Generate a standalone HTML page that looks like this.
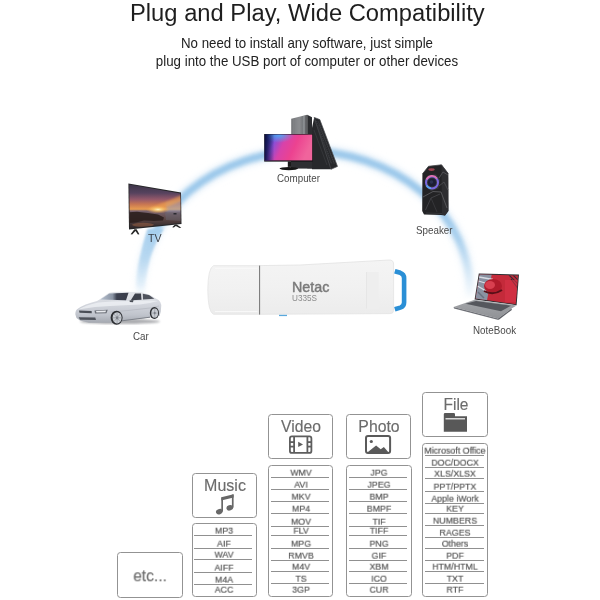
<!DOCTYPE html>
<html><head><meta charset="utf-8"><style>
html,body{margin:0;padding:0;}
body{-webkit-font-smoothing:antialiased;width:600px;height:600px;background:#fff;position:relative;overflow:hidden;font-family:"Liberation Sans",sans-serif;}
.t{will-change:transform;transform:scaleY(1.045);transform-origin:50% 84.65%;position:absolute;white-space:nowrap;line-height:1;}
.lbl{will-change:transform;transform:scaleY(1.07);transform-origin:50% 84.65%;position:absolute;white-space:nowrap;line-height:1;font-size:9.8px;color:#4a4a4a;}
.box{position:absolute;border:1.5px solid #939393;border-radius:3.5px;box-sizing:border-box;}
.hd{will-change:transform;transform:scaleY(1.05);transform-origin:50% 84.65%;position:absolute;white-space:nowrap;text-align:center;color:#6c6c6c;line-height:1;width:80px;-webkit-text-stroke:0.15px #6c6c6c;}
.ln{position:absolute;height:1px;background:#909090;}
.it{will-change:transform;transform:scale(0.93,1.04);transform-origin:50% 84.65%;position:absolute;width:80px;text-align:center;color:#555;line-height:1;white-space:nowrap;-webkit-text-stroke:0.2px #555;}
svg{position:absolute;left:0;top:0;}
</style></head><body>

<div class="t" style="left:130px;top:1.3px;font-size:23.75px;color:#1e1e1e;">Plug and Play, Wide Compatibility</div>
<div class="t" style="left:0;width:614px;text-align:center;top:36.5px;font-size:13.3px;color:#222;">No need to install any software, just simple</div>
<div class="t" style="left:0;width:614px;text-align:center;top:55px;font-size:13.3px;color:#222;">plug into the USB port of computer or other devices</div>

<svg width="600" height="380" viewBox="0 0 600 380">
  <defs>
    <filter id="blur" x="-20%" y="-20%" width="140%" height="140%"><feGaussianBlur stdDeviation="2.2"/></filter>
    <filter id="sb" x="-10%" y="-10%" width="120%" height="120%"><feGaussianBlur stdDeviation="0.6"/></filter>
    <filter id="sb2" x="-10%" y="-10%" width="120%" height="120%"><feGaussianBlur stdDeviation="1.2"/></filter>
    <linearGradient id="scr1" x1="0" y1="0" x2="1" y2="0.25">
      <stop offset="0" stop-color="#1e2060"/><stop offset="0.1" stop-color="#3040a8"/><stop offset="0.26" stop-color="#8a4ed6"/><stop offset="0.45" stop-color="#d842aa"/><stop offset="0.7" stop-color="#ec4290"/><stop offset="1" stop-color="#f0649c"/>
    </linearGradient>
    <radialGradient id="scr1b" cx="0.3" cy="0.0" r="0.32">
      <stop offset="0" stop-color="#48b4f8" stop-opacity="0.9"/><stop offset="1" stop-color="#48b4f8" stop-opacity="0"/>
    </radialGradient>
    <linearGradient id="scr1d" x1="0" y1="0" x2="1" y2="0">
      <stop offset="0" stop-color="#0e0e40" stop-opacity="0.95"/><stop offset="0.2" stop-color="#0e0e40" stop-opacity="0"/>
    </linearGradient>
    <linearGradient id="tvs" x1="0" y1="184" x2="0" y2="229" gradientUnits="userSpaceOnUse">
      <stop offset="0" stop-color="#3a3446"/><stop offset="0.2" stop-color="#56425e"/><stop offset="0.34" stop-color="#94586a"/><stop offset="0.45" stop-color="#c87652"/><stop offset="0.56" stop-color="#e89c50"/><stop offset="0.6" stop-color="#7a6470"/><stop offset="0.78" stop-color="#5a4442"/><stop offset="1" stop-color="#2a2428"/>
    </linearGradient>
    <radialGradient id="sun" cx="0.5" cy="0.5" r="0.5">
      <stop offset="0" stop-color="#fff4c0"/><stop offset="0.4" stop-color="#f8c870" stop-opacity="0.8"/><stop offset="1" stop-color="#f0a050" stop-opacity="0"/>
    </radialGradient>
    <linearGradient id="lap" x1="0" y1="0" x2="1" y2="0">
      <stop offset="0" stop-color="#8890a0"/><stop offset="0.25" stop-color="#a03040"/><stop offset="0.5" stop-color="#b82030"/><stop offset="0.8" stop-color="#d83448"/><stop offset="1" stop-color="#c83040"/>
    </linearGradient>
    <linearGradient id="carb" x1="0" y1="291" x2="0" y2="323" gradientUnits="userSpaceOnUse">
      <stop offset="0" stop-color="#e6e8ec"/><stop offset="0.4" stop-color="#d4d7de"/><stop offset="0.75" stop-color="#c0c4cc"/><stop offset="1" stop-color="#a4a8b0"/>
    </linearGradient>
    <linearGradient id="usbb" x1="0" y1="0" x2="0" y2="1">
      <stop offset="0" stop-color="#f4f4f4"/><stop offset="0.5" stop-color="#f1f1f1"/><stop offset="1" stop-color="#ececec"/>
    </linearGradient>
    <linearGradient id="tower" x1="0" y1="0" x2="1" y2="0">
      <stop offset="0" stop-color="#747679"/><stop offset="0.5" stop-color="#8c8e91"/><stop offset="0.7" stop-color="#77797c"/><stop offset="1" stop-color="#5a5b5e"/>
    </linearGradient>
    <linearGradient id="deck" x1="0" y1="0" x2="0" y2="1">
      <stop offset="0" stop-color="#a4a6aa"/><stop offset="1" stop-color="#909296"/>
    </linearGradient>
    <filter id="blur3" x="-20%" y="-20%" width="140%" height="140%"><feGaussianBlur stdDeviation="3.5"/></filter>
    <linearGradient id="arcfade" x1="0" y1="0" x2="0" y2="300" gradientUnits="userSpaceOnUse">
      <stop offset="0.7" stop-color="#fff"/><stop offset="0.8" stop-color="#fff" stop-opacity="0.85"/><stop offset="0.97" stop-color="#fff" stop-opacity="0.15"/><stop offset="1" stop-color="#fff" stop-opacity="0"/>
    </linearGradient>
    <mask id="arcmask" maskUnits="userSpaceOnUse" x="0" y="0" width="600" height="380"><rect x="0" y="0" width="600" height="300" fill="url(#arcfade)"/></mask>
    <linearGradient id="wedge" x1="0" y1="229" x2="0" y2="288" gradientUnits="userSpaceOnUse">
      <stop offset="0" stop-color="#a6cfee"/><stop offset="0.5" stop-color="#b4d6f0" stop-opacity="0.8"/><stop offset="1" stop-color="#d8eaf8" stop-opacity="0.2"/>
    </linearGradient>
    <clipPath id="tvclip"><polygon points="129.3,184.6 180.3,193.6 180.6,223 129.8,228.3"/></clipPath>
    <clipPath id="lapclip"><polygon points="479.6,274.4 518,275.6 515.7,304.2 475.6,298.6"/></clipPath>
  </defs>
  <!-- arc -->
  <g mask="url(#arcmask)">
    <ellipse cx="305.1" cy="289.9" rx="164.6" ry="138.9" fill="none" stroke="#e6f1fa" stroke-width="12" filter="url(#blur3)"/>
    <ellipse cx="305.1" cy="289.9" rx="164.6" ry="138.9" fill="none" stroke="#9ac7ea" stroke-width="7.5" filter="url(#blur)"/>
  </g>
  <path d="M147.5,229 L163.5,229 Q153,246 149.5,260 Q146.8,272 145,287 L136,287 Q137.2,270 139.6,260 Q142.5,244 147.5,229 Z" fill="url(#wedge)" filter="url(#sb2)"/>
  <!-- computer -->
  <g>
    <polygon points="307.2,114.7 312,117.2 312,168.5 307.2,168.5" fill="#2c2d30"/>
    <polygon points="314.2,117.4 319.8,119.6 337.5,166.4 331,169.3 312,169.3 312,128" fill="#27282b"/><polygon points="314.2,117.4 319.8,119.6 337.5,166.4 331,169.3" fill="none" stroke="#4c4d52" stroke-width="0.7"/><path d="M316.5,121 L332,164 M318.5,121.5 L334.5,164" stroke="#3c3d42" stroke-width="1.2" stroke-dasharray="1 1"/>
    <g stroke="#3e3f43" stroke-width="0.6">
      <line x1="316" y1="123" x2="331" y2="163"/><line x1="319" y1="124" x2="334" y2="163"/><line x1="314" y1="130" x2="327" y2="165"/>
    </g>
    <polygon points="291.2,118.8 307.2,114.7 307.2,168.3 291.2,168.3" fill="url(#tower)"/>
    <g stroke="#86888c" stroke-width="0.5" opacity="0.7">
      <line x1="293.5" y1="119" x2="293.5" y2="160"/><line x1="296" y1="118.3" x2="296" y2="160"/><line x1="298.5" y1="117.7" x2="298.5" y2="160"/><line x1="303" y1="116.5" x2="303" y2="160"/>
    </g>
    <rect x="303.2" y="116" width="1.6" height="45" fill="#a4a6aa" opacity="0.6"/><rect x="291" y="161" width="21" height="7.5" fill="#2e2f32"/>
    <rect x="264.2" y="134" width="48.6" height="27.6" fill="#141416"/>
    <rect x="264.8" y="134.6" width="47.4" height="25.8" fill="url(#scr1)"/>
    <rect x="264.8" y="134.6" width="47.4" height="25.8" fill="url(#scr1b)"/><rect x="264.8" y="134.6" width="47.4" height="25.8" fill="url(#scr1d)"/>
    <rect x="287.8" y="161.4" width="3.2" height="5.5" fill="#1a1a1a"/>
    <ellipse cx="288.8" cy="168.6" rx="9.3" ry="1.6" fill="#151515"/>
  </g>

  <!-- TV -->
  <g>
    <polygon points="128.4,183.4 181,192.5 181.5,224 129,229.6" fill="#262628"/>
    <g clip-path="url(#tvclip)">
      <rect x="128" y="183" width="54" height="47" fill="url(#tvs)"/>
      <polygon points="166,203 182,199 182,212 166,212" fill="#a0a6ba" opacity="0.55" filter="url(#sb2)"/>
      <polygon points="182,195 182,201 161,209.5 149,208.5" fill="#f0a050" opacity="0.65" filter="url(#sb2)"/>
      <ellipse cx="158" cy="209.5" rx="12" ry="4" fill="url(#sun)"/>
      <path d="M129,212.3 L137,211.8 L148,213 L158,214.5 L164,217.5 L163,220.5 L154,221 L144,220.5 L136,222.5 L129,223 Z" fill="#2c201e" opacity="0.92"/>
      <polygon points="165,212.2 182,212 182,221 166,220" fill="#6c6a78" opacity="0.45" filter="url(#sb)"/>
      <rect x="173.5" y="213" width="3" height="1.5" fill="#2a2a30"/>
      <ellipse cx="143" cy="224.8" rx="11" ry="2" fill="#b87048" opacity="0.4" filter="url(#sb)"/>
    </g>
    <polygon points="130.6,234.2 134.4,229.2 136.6,229.2 139.4,234.2 137.9,234.4 135.5,231 132.2,234.4" fill="#262626"/>
    <polygon points="172.2,227.2 175,224.4 176.8,224.4 181.3,227.8 179.6,228.1 175.8,225.9 173.8,227.5" fill="#262626"/>
  </g>

  <!-- speaker -->
  <g>
    <polygon points="428.5,166.3 441.5,164.8 448.2,173.5 448.4,211 445,215.6 441,215 424,214.5 422.2,211 422.4,174" fill="#232325"/>
    <polygon points="441.5,164.8 448.2,173.5 448.4,211 445,215.6 442,214.8 441.5,176" fill="#2e2e31"/>
    <path d="M428.5,166.3 L441.5,164.8 L448.2,173.5" fill="none" stroke="#4a4a4e" stroke-width="0.8"/>
    <path d="M422.4,174 L428.5,166.3" fill="none" stroke="#3c3c40" stroke-width="0.8"/>
    <path d="M439,178 L443,172 L448,175" fill="none" stroke="#5a5a5e" stroke-width="0.8"/>
    <path d="M439,186 L444,182 L448,190" fill="none" stroke="#505054" stroke-width="0.8"/>
    <path d="M423,197 L433,191.5 L441,192 L447,208" fill="none" stroke="#5a5a5e" stroke-width="0.9"/>
    <path d="M425.5,210 L431,198 L440,194" fill="none" stroke="#48484c" stroke-width="0.8"/>
    <path d="M431,198 L437,212" fill="none" stroke="#3e3e42" stroke-width="0.7"/>
    <path d="M426,213 L442,213.5" fill="none" stroke="#3a3a3e" stroke-width="0.8"/>
    <ellipse cx="431.5" cy="169.6" rx="3.2" ry="1.4" fill="#b04858" opacity="0.85"/>
    <polygon points="425,179 428.5,175 436,174.5 440,180 438.5,188.5 431,191 425.5,187" fill="#38383c"/>
    <circle cx="432" cy="182.5" r="6" fill="none" stroke="#7a68e0" stroke-width="2" filter="url(#sb)"/>
    <path d="M426.5,179.5 A6,6 0 0 1 437,178.5" fill="none" stroke="#e070b0" stroke-width="1.6" filter="url(#sb)"/>
    <path d="M426.5,185.5 A6,6 0 0 0 431,188.4" fill="none" stroke="#58a8f0" stroke-width="1.6" filter="url(#sb)"/>
    <circle cx="432" cy="182.5" r="4" fill="#1c1e34"/>
    <circle cx="431.5" cy="182" r="1.8" fill="#2c3050"/>
  </g>

  <!-- laptop -->
  <g>
    <polygon points="478.8,273.4 519,274.6 516.6,305.2 474.6,299.5" fill="#2e2f33"/>
    <g clip-path="url(#lapclip)">
      <rect x="474" y="273" width="46" height="33" fill="#c42a3a"/>
      <polygon points="474,273 492,273 486,306 474,306" fill="#8a92a2"/>
      <path d="M479,277 L493,279.5 M478.5,281 L490,284.5 M477.5,286 L486,291" stroke="#d8dce4" stroke-width="1.3"/>
      <path d="M478,292 L484,298" stroke="#6a7282" stroke-width="1.5"/>
      <ellipse cx="493" cy="286" rx="9" ry="7" fill="#b01c2c"/>
      <ellipse cx="490" cy="285" rx="5" ry="4" fill="#d84050"/>
      <path d="M484,291 Q493,296 502,290" stroke="#5a1018" stroke-width="2" fill="none"/>
      <path d="M509,275 L519,285 M513,275 L519,281 M511,279 L519,290" stroke="#3a2a30" stroke-width="1.2"/>
      <rect x="505" y="280" width="14" height="22" fill="#d83448" opacity="0.6"/>
    </g>
    <polygon points="453.6,307 474.6,299.8 516.6,305.4 511.5,308.6 498,318.4" fill="url(#deck)"/>
    <polygon points="453.6,307 498,318.4 498.5,320 454,308.4" fill="#6e7076"/>
    <polygon points="498,318.4 511.5,308.6 511.8,310 498.5,320" fill="#5e6066"/>
    <polygon points="465.5,303.8 476,300.9 511,305.7 501,311.2" fill="#55575d"/>
  </g>

  <!-- car -->
  <g>
    <ellipse cx="120" cy="321.5" rx="40" ry="2.6" fill="#6a6c72" opacity="0.55" filter="url(#sb2)"/>
    <path d="M75.3,314.3 Q75.5,310 77.5,309 Q84,304 97,301 L99.5,299.5 L108.7,293 Q112,291.9 120,291.8 L141,292 Q149,294 155,298 L158.6,300 Q161,302 161.3,305 L160.8,311.5 L159.5,316 L150,317.5 L122,320.8 L110,322.8 L89,322.8 L80,320.5 L76.5,318 Z" fill="url(#carb)"/>
    <path d="M78,309.5 Q86,305 98,302.5 L112,301.5 L130,301 L150,300.5 L158,301 Q150,303.5 140,304.5 L110,306 L95,307 Z" fill="#eef0f4" opacity="0.8"/>
    <linearGradient id="wsg" x1="100" y1="0" x2="128" y2="0" gradientUnits="userSpaceOnUse"><stop offset="0" stop-color="#b8c2d0"/><stop offset="0.45" stop-color="#8a94a4"/><stop offset="0.6" stop-color="#3c4150"/><stop offset="1" stop-color="#3a3e4a"/></linearGradient>
    <path d="M100.5,299.4 L109.3,293.4 L128.5,292.7 L126,300.3 Z" fill="url(#wsg)"/>
    <path d="M130.8,300.2 L135,293.5 L141,293.4 L141.5,299.8 Z" fill="#3e424c"/>
    <path d="M143,299.6 L142.8,293.8 L149,294.9 L154.3,298.7 Z" fill="#50545e"/>
    <path d="M129.5,300.6 L133.5,300 L133,302.2 L129.8,302 Z" fill="#4a4e56"/>
    <path d="M79,310.6 L91.6,311 L91.8,313.2 L79.5,312.8 Z" fill="#4a4e56"/>
    <path d="M94.5,310.4 L107.8,309.8 L106.5,313.3 L95,313.4 Z" fill="#6c7078"/>
    <path d="M96,311 L106,310.6 L105.5,312.3 L96.5,312.5 Z" fill="#e8eaee"/>
    <path d="M78.7,317.3 L95.3,317.6 L96,320 L80,319.8 Z" fill="#4e525a"/>
    <path d="M122,320.8 L150,317.2" stroke="#7c8088" stroke-width="1"/>
    <path d="M110,312 L128,310.5 L150,308 L159,306" fill="none" stroke="#b0b4bc" stroke-width="0.6"/>
    <ellipse cx="116.6" cy="317.8" rx="6" ry="7" fill="#2c2e32"/>
    <ellipse cx="117.1" cy="317.8" rx="4.5" ry="5.6" fill="#c8ccd2"/>
    <g stroke="#8a8e96" stroke-width="0.6"><line x1="117.1" y1="312.5" x2="117.1" y2="323.1"/><line x1="112.8" y1="317.8" x2="121.4" y2="317.8"/><line x1="114" y1="314" x2="120.2" y2="321.6"/><line x1="120.2" y1="314" x2="114" y2="321.6"/></g>
    <ellipse cx="117.1" cy="317.8" rx="1.3" ry="1.6" fill="#7a7e86"/>
    <ellipse cx="154.4" cy="313.1" rx="4.6" ry="6" fill="#2c2e32"/>
    <ellipse cx="154.7" cy="313.1" rx="3.4" ry="4.7" fill="#c8ccd2"/>
    <g stroke="#8a8e96" stroke-width="0.5"><line x1="154.7" y1="308.6" x2="154.7" y2="317.6"/><line x1="151.5" y1="313.1" x2="157.9" y2="313.1"/></g>
    <ellipse cx="154.7" cy="313.1" rx="1" ry="1.4" fill="#7a7e86"/>
  </g>

  <!-- USB -->
  <g>
    <path d="M259.5,265.6 L300,265 L389,260 Q393.5,259.8 393.6,264 L393.6,310.5 Q393.6,313.6 390,313.6 L259.5,314.3 Z" fill="url(#usbb)" stroke="#e2e2e2" stroke-width="0.8"/>
    <path d="M213.5,265.7 L259.5,265.7 L259.5,314.3 L213.5,314.3 Q208,312 207.8,290 Q208,268 213.5,265.7 Z" fill="url(#usbb)" stroke="#e4e4e4" stroke-width="0.8"/>
    <path d="M215,268.5 L257.5,268.5 M215,311.5 L257.5,311.5" stroke="#f8f8f8" stroke-width="1"/>
    <rect x="366" y="272" width="12.7" height="36.7" fill="#eeeeee"/>
    <rect x="366" y="272" width="0.8" height="36.7" fill="#e4e4e4"/>
    <line x1="259.6" y1="265.6" x2="259.6" y2="314.6" stroke="#606060" stroke-width="0.85"/>
    <path d="M394.8,271.2 L400.3,272.8 Q404.1,274.2 404.1,278 L404.1,302.5 Q404.1,306.4 400.3,307.6 L394.8,309.2" fill="none" stroke="#2a8fd6" stroke-width="4.6"/>
    <rect x="279" y="314.8" width="8" height="1.3" fill="#5aa8dc"/>
  </g>
</svg>


<div class="t" style="left:292px;top:279.6px;font-size:14.3px;color:#7a7a7a;-webkit-text-stroke:0.45px #7a7a7a;">Netac</div>
<div class="t" style="left:292.3px;top:294.5px;font-size:8.2px;color:#8a8a8a;">U335S</div>

<div class="lbl" style="left:277px;top:174px;">Computer</div>
<div class="lbl" style="left:148.2px;top:232.9px;font-size:10.6px;color:#3a4048">TV</div>
<div class="lbl" style="left:415.5px;top:225.5px;">Speaker</div>
<div class="lbl" style="left:472.5px;top:326.2px;">NoteBook</div>
<div class="lbl" style="left:132.6px;top:332px;">Car</div>

<!-- boxes -->
<div class="box" style="left:117px;top:552px;width:66px;height:45.5px;"></div>
<div class="hd" style="left:110px;top:568px;font-size:16px;transform:scale(0.97,1.05)">etc...</div>

<div class="box" style="left:191.5px;top:473px;width:65.5px;height:45px;"></div>
<div class="hd" style="left:184.5px;top:478.3px;font-size:16px;">Music</div>
<div class="box" style="left:191.5px;top:523.2px;width:65.5px;height:73.8px;"></div>

<div class="box" style="left:267.8px;top:414.3px;width:65.6px;height:45px;"></div>
<div class="hd" style="left:260.5px;top:419.1px;font-size:15.7px;">Video</div>
<div class="box" style="left:268px;top:464.5px;width:65.1px;height:132.5px;"></div>

<div class="box" style="left:345.8px;top:414.3px;width:65.5px;height:45px;"></div>
<div class="hd" style="left:339px;top:419.1px;font-size:15.8px;">Photo</div>
<div class="box" style="left:346px;top:464.8px;width:65.5px;height:132.2px;"></div>

<div class="box" style="left:422px;top:392px;width:66.3px;height:44.5px;"></div>
<div class="hd" style="left:415.5px;top:396.7px;font-size:15.5px;">File</div>
<div class="box" style="left:422.2px;top:442.5px;width:66px;height:154.5px;"></div>

<div class="it" style="left:184.4px;top:526.26px;font-size:9.5px">MP3</div>
<div class="it" style="left:184.4px;top:538.86px;font-size:9.5px">AIF</div>
<div class="it" style="left:184.4px;top:550.46px;font-size:9.5px">WAV</div>
<div class="it" style="left:184.4px;top:562.86px;font-size:9.5px">AIFF</div>
<div class="it" style="left:184.4px;top:575.16px;font-size:9.5px">M4A</div>
<div class="it" style="left:184.4px;top:585.26px;font-size:9.5px">ACC</div>
<div class="ln" style="left:194.2px;top:535.20px;width:58.2px"></div>
<div class="ln" style="left:194.2px;top:547.80px;width:58.2px"></div>
<div class="ln" style="left:194.2px;top:559.40px;width:58.2px"></div>
<div class="ln" style="left:194.2px;top:571.80px;width:58.2px"></div>
<div class="ln" style="left:194.2px;top:584.10px;width:58.2px"></div>
<div class="it" style="left:260.8px;top:467.66px;font-size:9.5px">WMV</div>
<div class="it" style="left:260.8px;top:479.96px;font-size:9.5px">AVI</div>
<div class="it" style="left:260.8px;top:491.86px;font-size:9.5px">MKV</div>
<div class="it" style="left:260.8px;top:504.06px;font-size:9.5px">MP4</div>
<div class="it" style="left:260.8px;top:516.66px;font-size:9.5px">MOV</div>
<div class="it" style="left:260.8px;top:526.46px;font-size:9.5px">FLV</div>
<div class="it" style="left:260.8px;top:538.86px;font-size:9.5px">MPG</div>
<div class="it" style="left:260.8px;top:550.76px;font-size:9.5px">RMVB</div>
<div class="it" style="left:260.8px;top:561.86px;font-size:9.5px">M4V</div>
<div class="it" style="left:260.8px;top:574.36px;font-size:9.5px">TS</div>
<div class="it" style="left:260.8px;top:585.26px;font-size:9.5px">3GP</div>
<div class="ln" style="left:270.6px;top:476.50px;width:58.2px"></div>
<div class="ln" style="left:270.6px;top:488.80px;width:58.2px"></div>
<div class="ln" style="left:270.6px;top:500.70px;width:58.2px"></div>
<div class="ln" style="left:270.6px;top:512.90px;width:58.2px"></div>
<div class="ln" style="left:270.6px;top:525.50px;width:58.2px"></div>
<div class="ln" style="left:270.6px;top:535.30px;width:58.2px"></div>
<div class="ln" style="left:270.6px;top:547.70px;width:58.2px"></div>
<div class="ln" style="left:270.6px;top:559.60px;width:58.2px"></div>
<div class="ln" style="left:270.6px;top:570.70px;width:58.2px"></div>
<div class="ln" style="left:270.6px;top:583.20px;width:58.2px"></div>
<div class="it" style="left:338.9px;top:467.66px;font-size:9.5px">JPG</div>
<div class="it" style="left:338.9px;top:479.96px;font-size:9.5px">JPEG</div>
<div class="it" style="left:338.9px;top:491.86px;font-size:9.5px">BMP</div>
<div class="it" style="left:338.9px;top:504.06px;font-size:9.5px">BMPF</div>
<div class="it" style="left:338.9px;top:516.66px;font-size:9.5px">TIF</div>
<div class="it" style="left:338.9px;top:526.46px;font-size:9.5px">TIFF</div>
<div class="it" style="left:338.9px;top:538.86px;font-size:9.5px">PNG</div>
<div class="it" style="left:338.9px;top:550.76px;font-size:9.5px">GIF</div>
<div class="it" style="left:338.9px;top:561.86px;font-size:9.5px">XBM</div>
<div class="it" style="left:338.9px;top:574.36px;font-size:9.5px">ICO</div>
<div class="it" style="left:338.9px;top:585.26px;font-size:9.5px">CUR</div>
<div class="ln" style="left:348.7px;top:476.50px;width:58.3px"></div>
<div class="ln" style="left:348.7px;top:488.80px;width:58.3px"></div>
<div class="ln" style="left:348.7px;top:500.70px;width:58.3px"></div>
<div class="ln" style="left:348.7px;top:512.90px;width:58.3px"></div>
<div class="ln" style="left:348.7px;top:525.50px;width:58.3px"></div>
<div class="ln" style="left:348.7px;top:535.30px;width:58.3px"></div>
<div class="ln" style="left:348.7px;top:547.70px;width:58.3px"></div>
<div class="ln" style="left:348.7px;top:559.60px;width:58.3px"></div>
<div class="ln" style="left:348.7px;top:570.70px;width:58.3px"></div>
<div class="ln" style="left:348.7px;top:583.20px;width:58.3px"></div>
<div class="it" style="left:415.4px;top:445.66px;font-size:9.5px">Microsoft Office</div>
<div class="it" style="left:415.4px;top:457.66px;font-size:9.5px">DOC/DOCX</div>
<div class="it" style="left:415.4px;top:469.36px;font-size:9.5px">XLS/XLSX</div>
<div class="it" style="left:415.4px;top:481.66px;font-size:9.5px">PPT/PPTX</div>
<div class="it" style="left:415.4px;top:493.86px;font-size:9.5px">Apple iWork</div>
<div class="it" style="left:415.4px;top:504.06px;font-size:9.5px">KEY</div>
<div class="it" style="left:415.4px;top:515.96px;font-size:9.5px">NUMBERS</div>
<div class="it" style="left:415.4px;top:527.96px;font-size:9.5px">RAGES</div>
<div class="it" style="left:415.4px;top:539.26px;font-size:9.5px">Others</div>
<div class="it" style="left:415.4px;top:551.26px;font-size:9.5px">PDF</div>
<div class="it" style="left:415.4px;top:562.46px;font-size:9.5px">HTM/HTML</div>
<div class="it" style="left:415.4px;top:574.46px;font-size:9.5px">TXT</div>
<div class="it" style="left:415.4px;top:585.26px;font-size:9.5px">RTF</div>
<div class="ln" style="left:425.2px;top:454.60px;width:58.8px"></div>
<div class="ln" style="left:425.2px;top:466.60px;width:58.8px"></div>
<div class="ln" style="left:425.2px;top:478.30px;width:58.8px"></div>
<div class="ln" style="left:425.2px;top:490.60px;width:58.8px"></div>
<div class="ln" style="left:425.2px;top:502.80px;width:58.8px"></div>
<div class="ln" style="left:425.2px;top:513.00px;width:58.8px"></div>
<div class="ln" style="left:425.2px;top:524.90px;width:58.8px"></div>
<div class="ln" style="left:425.2px;top:536.90px;width:58.8px"></div>
<div class="ln" style="left:425.2px;top:548.20px;width:58.8px"></div>
<div class="ln" style="left:425.2px;top:560.20px;width:58.8px"></div>
<div class="ln" style="left:425.2px;top:571.40px;width:58.8px"></div>
<div class="ln" style="left:425.2px;top:583.40px;width:58.8px"></div>


<svg width="600" height="600" viewBox="0 0 600 600" style="pointer-events:none">
  <!-- music note -->
  <g fill="#686868">
    <polygon points="221.3,497.2 233.6,494.2 233.6,497.4 221.3,500.4"/>
    <rect x="221.3" y="497.5" width="1.7" height="14"/>
    <rect x="231.9" y="494.5" width="1.7" height="13"/>
    <ellipse cx="219.3" cy="511.7" rx="3.4" ry="2.7" transform="rotate(-20 219.3 511.7)"/>
    <ellipse cx="229.8" cy="507.8" rx="3.4" ry="2.7" transform="rotate(-20 229.8 507.8)"/>
  </g>
  <!-- film -->
  <g fill="none" stroke="#5e5e5e" stroke-width="1.8">
    <rect x="289.9" y="436.4" width="21.5" height="16.5" rx="2"/>
    <line x1="294.1" y1="436.4" x2="294.1" y2="452.9"/>
    <line x1="307.4" y1="436.4" x2="307.4" y2="452.9"/>
    <line x1="289.9" y1="442.1" x2="294.1" y2="442.1"/>
    <line x1="289.9" y1="446.6" x2="294.1" y2="446.6"/>
    <line x1="307.4" y1="442.1" x2="311.4" y2="442.1"/>
    <line x1="307.4" y1="446.6" x2="311.4" y2="446.6"/>
  </g>
  <polygon points="298.2,441.8 303,444.4 298.2,447" fill="#5e5e5e"/>
  <!-- image -->
  <rect x="366" y="436.1" width="24.1" height="17" rx="2" fill="none" stroke="#5a5a5a" stroke-width="2"/>
  <circle cx="371.3" cy="441.5" r="1.6" fill="#5a5a5a"/>
  <polygon points="367,452.7 376.1,445.4 380.7,449.3 383.9,447 388.8,452.7" fill="#5a5a5a"/>
  <!-- folder -->
  <path d="M443.8,416.6 L443.8,414.3 Q443.8,413 445.1,413 L453.8,413 Q455,413 455,414.3 L455,416.3 L467,416.3 L467,431.8 L443.8,431.8 Z" fill="#585858"/>
  <rect x="445.5" y="418" width="19.5" height="1.5" fill="#d8d8d8"/>
</svg>

</body></html>
